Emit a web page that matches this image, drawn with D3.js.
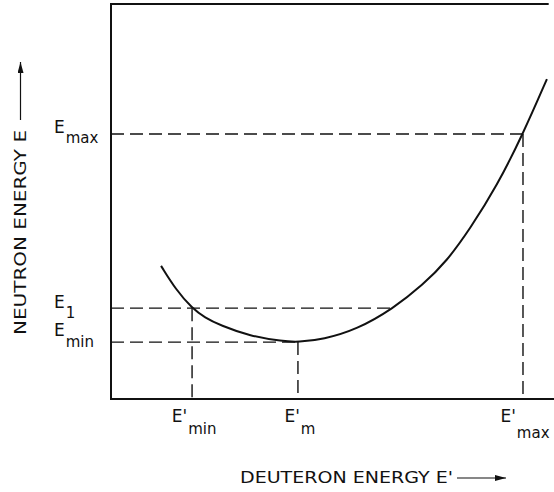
<!DOCTYPE html>
<html>
<head>
<meta charset="utf-8">
<script src="https://cdn.jsdelivr.net/npm/d3@7"></script>
<style>
  html, body { margin: 0; padding: 0; background: #fff; }
  svg { display: block; }
  text { font-family: "DejaVu Sans", "Open Sans", sans-serif; fill: #111; }
</style>
</head>
<body>
<svg id="chart" width="554" height="492"></svg>
<script>
// Neutron energy E as a function of deuteron energy E' (schematic units)
const curveX = [1.13, 1.47, 1.83, 2.12, 2.46, 3.14, 3.88, 4.22, 4.79, 5.55, 6.37, 7.04, 7.58, 8.10, 8.71, 9.30, 9.84];
const curveY = [3.37, 2.76, 2.30, 2.06, 1.87, 1.59, 1.46, 1.44, 1.51, 1.76, 2.29, 2.89, 3.49, 4.30, 5.39, 6.71, 8.10];

// Marked energies on the two axes
const yMarks = [
  { main: "E", sub: "max", value: 6.71 },
  { main: "E", sub: "1",   value: 2.30 },
  { main: "E", sub: "min", value: 1.44 }
];
const xMarks = [
  { main: "E'", sub: "min", value: 1.83, level: 2.30 },
  { main: "E'", sub: "m",   value: 4.22, level: 1.44 },
  { main: "E'", sub: "max", value: 9.30, level: 6.71 }
];
// Right-hand branch intersection with the E1 level
const e1RightX = 6.37;

const xTitle = "DEUTERON ENERGY E'";
const yTitle = "NEUTRON ENERGY E";

const svg = d3.select("#chart");
const x = d3.scaleLinear().domain([0, 10]).range([111, 554]);
const y = d3.scaleLinear().domain([0, 10]).range([399, 4]);

// Frame: left, top and bottom edges
svg.append("path")
  .attr("fill", "none").attr("stroke", "#111").attr("stroke-width", 2)
  .attr("d", `M${x(9.88)},${y(10)} L${x(0)},${y(10)} L${x(0)},${y(0)} L${x(10)},${y(0)}`);

// Dashed guide lines
const dash = svg.append("g").attr("stroke", "#111").attr("stroke-width", 1.4)
  .attr("stroke-dasharray", "13,6").attr("fill", "none");
const hEnds = [xMarks[2].value, e1RightX, xMarks[1].value];
yMarks.forEach((m, i) => {
  dash.append("line")
    .attr("x1", x(0)).attr("x2", x(hEnds[i]))
    .attr("y1", y(m.value)).attr("y2", y(m.value));
});
xMarks.forEach(m => {
  dash.append("line")
    .attr("x1", x(m.value)).attr("x2", x(m.value))
    .attr("y1", y(m.level)).attr("y2", y(0));
});

// The curve, drawn as a smooth B-spline through the sampled values
const pts = curveX.map((v, i) => [v, curveY[i]]);
svg.append("path")
  .datum(pts)
  .attr("fill", "none")
  .attr("stroke", "#111")
  .attr("stroke-width", 2)
  .attr("d", d3.line().x(d => x(d[0])).y(d => y(d[1])).curve(d3.curveBasis));

// Y-axis labels (the E_min label sits a little higher to clear E_1)
const yLift = [1, 0, 6];
const ySubDrop = [10, 10, 11];
yMarks.forEach((m, i) => {
  const t = svg.append("text")
    .attr("x", 54).attr("y", y(m.value) - yLift[i]);
  t.append("tspan").attr("font-size", 17).text(m.main);
  t.append("tspan").attr("font-size", 15).attr("dy", ySubDrop[i]).attr("dx", 1).text(m.sub);
});

// X-axis labels
const xSubDrop = [12, 12, 16];
xMarks.forEach((m, i) => {
  const t = svg.append("text")
    .attr("x", x(m.value) + 2)
    .attr("y", 422)
    .attr("text-anchor", "middle");
  t.append("tspan").attr("font-size", 17).text(m.main);
  t.append("tspan").attr("font-size", 15).attr("dy", xSubDrop[i]).attr("dx", 1).text(m.sub);
});

// Arrow marker
svg.append("defs").append("marker")
  .attr("id", "arrow")
  .attr("viewBox", "0 0 11 6")
  .attr("refX", 11).attr("refY", 3)
  .attr("markerWidth", 11).attr("markerHeight", 6)
  .attr("markerUnits", "userSpaceOnUse")
  .attr("orient", "auto")
  .append("path").attr("d", "M0,0 L11,3 L0,6 Z").attr("fill", "#111");

// X-axis title with arrow
svg.append("text")
  .attr("x", 240).attr("y", 483)
  .attr("font-size", 16)
  .attr("textLength", 213).attr("lengthAdjust", "spacingAndGlyphs")
  .text(xTitle);
svg.append("line")
  .attr("x1", 457).attr("x2", 506).attr("y1", 478).attr("y2", 478)
  .attr("stroke", "#111").attr("stroke-width", 1.2)
  .attr("marker-end", "url(#arrow)");

// Y-axis title with arrow
svg.append("text")
  .attr("transform", "translate(26,335) rotate(-90)")
  .attr("font-size", 16)
  .attr("textLength", 205).attr("lengthAdjust", "spacingAndGlyphs")
  .text(yTitle);
svg.append("line")
  .attr("x1", 20.5).attr("x2", 20.5).attr("y1", 120).attr("y2", 62)
  .attr("stroke", "#111").attr("stroke-width", 1.2)
  .attr("marker-end", "url(#arrow)");
</script>
</body>
</html>
